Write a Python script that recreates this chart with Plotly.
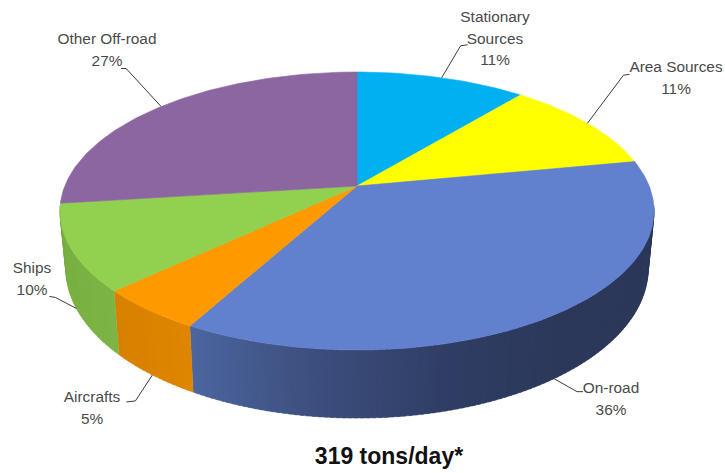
import math
import plotly.graph_objects as go

# ---- data ----
categories = ["Stationary Sources", "Area Sources", "On-road", "Aircrafts", "Ships", "Other Off-road"]
shares = [11, 11, 36, 5, 10, 27]
total_text = "319 tons/day*"

# ---- styling / layout ----
top_colors = ["#00B0F0", "#FFFF00", "#6180CD", "#FF9900", "#92D050", "#8C66A0"]
label_lines = [["Stationary", "Sources"], ["Area Sources"], ["On-road"], ["Aircrafts"], ["Ships"], ["Other Off-road"]]
label_pos = [(495, 18), (676, 68), (611, 389), (92, 398), (32, 269), (107, 40)]
leader_offsets = [((19, -32), (26, -33)), ((36, -48), (42, -49)), ((23, 13), (29, 13)),
                  ((-17, 26), (-26, 27)), ((-21, -11), (-27, -12)), ((-35, -38), (-40, -38))]
on_side = [False, False, True, True, True, False]
FONT = "Liberation Sans"
TEXT = "#4A4A4A"
W, H = 725, 473
CX, CY = 357, 186
A, B, K = 292.2, 134.5, 0.18
DEPTH, SHRINK = 55.8, 0.98


def rim(theta, lower=False):
    r = math.radians(theta)
    u, v = math.sin(r), math.cos(r)
    w = 1 + K * v
    x, y = A * u / w, -B * v / w
    if lower:
        return CX + SHRINK * x, CY + y + DEPTH / w
    return CX + x, CY + y


def lerp_color(stops, t):
    t = max(0, min(1, t))
    n = len(stops) - 1
    i = min(int(t * n), n - 1)
    f = t * n - i
    c = [round(stops[i][k] + (stops[i + 1][k] - stops[i][k]) * f) for k in range(3)]
    return f"rgb({c[0]},{c[1]},{c[2]})"


side_stops = {
    2: [(43, 56, 90), (43, 56, 90), (43, 56, 90), (47, 61, 100), (60, 78, 125), (76, 102, 160)],
    3: [(222, 134, 0), (216, 128, 0)],
    4: [(124, 180, 70), (118, 174, 64)],
}

fig = go.Figure()

edges = [0]
for s in shares:
    edges.append(edges[-1] + s)
total = edges[-1]
angles = [360 * e / total for e in edges]

# side wall, drawn from the slices in thin strips
STEP = 1.0
for idx, stops in side_stops.items():
    a0 = max(angles[idx], 98)
    a1 = min(angles[idx + 1], 262)
    n = max(1, math.ceil((a1 - a0) / STEP))
    for j in range(n):
        t0 = a0 + (a1 - a0) * j / n
        t1 = a0 + (a1 - a0) * min(j + 1.6, n) / n
        pts = [t0 + (t1 - t0) * q / 3 for q in range(4)]
        up = [rim(t) for t in pts]
        lo = [rim(t, True) for t in reversed(pts)]
        poly = up + lo + [up[0]]
        col = lerp_color(stops, (j + 0.5) / n)
        fig.add_trace(go.Scatter(x=[p[0] for p in poly], y=[p[1] for p in poly], mode="lines",
                                 fill="toself", fillcolor=col, line=dict(width=0.4, color=col),
                                 hoverinfo="skip", showlegend=False))

# top face
for i, name in enumerate(categories):
    a0, a1 = angles[i], angles[i + 1]
    n = max(6, int((a1 - a0) / 1.0))
    pts = [rim(a0 + (a1 - a0) * q / n) for q in range(n + 1)]
    poly = [(CX, CY)] + pts + [(CX, CY)]
    fig.add_trace(go.Scatter(x=[p[0] for p in poly], y=[p[1] for p in poly], mode="lines",
                             fill="toself", fillcolor=top_colors[i],
                             line=dict(width=0.6, color=top_colors[i]),
                             name=name, hoverinfo="name", showlegend=False))

# leaders and labels
PITCH = 21.7
for i, name in enumerate(categories):
    mid = (angles[i] + angles[i + 1]) / 2
    ax, ay = rim(mid, on_side[i])
    (d1x, d1y), (d2x, d2y) = leader_offsets[i]
    fig.add_trace(go.Scatter(x=[ax, ax + d1x, ax + d2x], y=[ay, ay + d1y, ay + d2y], mode="lines",
                             line=dict(color="#3A3A3A", width=1), hoverinfo="skip", showlegend=False))
    lines = label_lines[i] + [f"{shares[i]}%"]
    lx, ly = label_pos[i]
    fig.add_trace(go.Scatter(x=[lx] * len(lines), y=[ly + PITCH * k for k in range(len(lines))],
                             mode="text", text=lines, textposition="middle center",
                             textfont=dict(family=FONT, size=15.4, color=TEXT),
                             hoverinfo="skip", showlegend=False))

fig.add_trace(go.Scatter(x=[389], y=[458], mode="text", text=[total_text], textposition="middle center",
                         textfont=dict(family=FONT, size=23, color="#111111", weight="bold"),
                         hoverinfo="skip", showlegend=False))

fig.update_layout(
    width=W, height=H, margin=dict(l=0, r=0, t=0, b=0),
    paper_bgcolor="white", plot_bgcolor="white", showlegend=False,
    xaxis=dict(range=[0, W], visible=False, fixedrange=True),
    yaxis=dict(range=[H, 0], visible=False, fixedrange=True),
)
fig.write_html("out.html", config={"displayModeBar": False},
               post_script="document.body.style.margin='0';document.documentElement.style.overflow='hidden';window.dispatchEvent(new Event('resize'));")
